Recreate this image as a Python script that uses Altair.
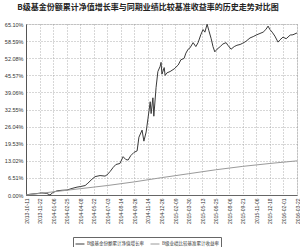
import altair as alt
import pandas as pd

title_text = "B级基金份额累计净值增长率与同期业绩比较基准收益率的历史走势对比图"
series_names = ["B级基金份额累计净值增长率", "B级业绩比较基准累计收益率"]

# trading-day index and cumulative return (%) of the fund
fund_day = [0, 9, 22, 35, 46, 53, 60, 69, 80, 91, 102, 113, 120, 131, 137, 146, 153, 164,
            175, 179, 186, 193, 199, 208, 215, 221, 226, 232, 239, 246, 250, 257, 261, 266,
            270, 275, 277, 281, 283, 288, 292, 297, 299, 301, 306, 308, 312, 319, 328, 337,
            343, 350, 354, 359, 363, 370, 376, 381, 387, 392, 396, 401, 405, 410, 414, 418,
            423, 430, 436, 443, 447, 454, 461, 467, 474, 480, 487, 496, 503, 511, 518, 525,
            531, 536, 540, 545, 551, 558, 562, 569, 576, 585, 591, 600]
fund_val = [0.0, 0.3, 0.5, 0.8, 0.6, 0.0, 1.0, 1.6, 1.8, 1.9, 2.5, 3.0, 3.2, 3.6, 4.5, 6.0,
            7.0, 7.4, 7.2, 7.6, 8.9, 10.5, 11.6, 12.0, 14.6, 13.5, 13.3, 15.0, 16.2, 16.8,
            22.0, 24.7, 20.5, 24.0, 29.0, 35.5, 31.0, 37.0, 30.0, 41.0, 47.0, 49.0, 50.5,
            46.0, 48.5, 45.5, 46.5, 47.0, 48.0, 49.5, 51.5, 52.0, 54.0, 55.5, 56.0, 58.0,
            56.5, 58.0, 61.0, 63.0, 62.0, 65.0, 62.5, 59.5, 56.5, 54.5, 55.5, 56.5, 57.5,
            58.0, 57.0, 55.5, 56.5, 57.0, 57.3, 57.8, 58.5, 59.8, 60.3, 61.0, 61.5, 62.0,
            63.0, 64.3, 63.0, 62.0, 60.5, 58.2, 59.0, 60.1, 59.5, 60.9, 61.0, 61.7]

# benchmark cumulative return (%)
bench_day = [0, 60, 120, 180, 240, 300, 360, 420, 480, 540, 600]
bench_val = [0.0, 1.2, 2.4, 3.6, 5.0, 6.6, 8.1, 9.6, 10.9, 12.0, 13.0]

x_labels = ["2013-10-11", "2013-11-22", "2014-01-06", "2014-02-25", "2014-04-08",
            "2014-05-22", "2014-07-03", "2014-08-14", "2014-09-26", "2014-11-14",
            "2014-12-26", "2015-02-09", "2015-03-30", "2015-05-13", "2015-06-25",
            "2015-08-06", "2015-09-21", "2015-11-06", "2015-12-18", "2016-02-01",
            "2016-03-22"]
x_tick_days = [i * 30 for i in range(len(x_labels))]
y_ticks = [0.0, 6.51, 13.02, 19.53, 26.04, 32.55, 39.06, 45.57, 52.08, 58.59, 65.10]

df = pd.concat([
    pd.DataFrame({"day": fund_day, "val": fund_val, "series": series_names[0]}),
    pd.DataFrame({"day": bench_day, "val": bench_val, "series": series_names[1]}),
])

label_arr = "[" + ",".join("'" + s + "'" for s in x_labels) + "]"

grid = dict(grid=True, gridColor="#9a9a9a", gridDash=[1, 2], gridWidth=0.8)

lines = alt.Chart(df).mark_line(strokeWidth=1).encode(
    x=alt.X("day:Q", scale=alt.Scale(domain=[0, 600], nice=False),
            axis=alt.Axis(values=x_tick_days, labelExpr=label_arr + "[round(datum.value/30)]",
                          labelAngle=270, labelFontSize=5, labelColor="#333",
                          labelFont="Liberation Sans", labelPadding=3,
                          labelAlign="right", labelBaseline="middle",
                          title=None, domainColor="#666", tickSize=0, **grid)),
    y=alt.Y("val:Q", scale=alt.Scale(domain=[0, 65.10], nice=False, zero=False),
            axis=alt.Axis(values=y_ticks, labelExpr="format(datum.value, '.2f') + '%'",
                          labelFontSize=5.5, labelColor="#333", labelFont="Liberation Sans",
                          labelPadding=3, title=None, domainColor="#555", tickSize=0, **grid)),
    color=alt.Color("series:N", sort=series_names,
                    scale=alt.Scale(domain=series_names, range=["#3a3a3a", "#9a9a9a"]),
                    legend=alt.Legend(orient="none", legendX=47, legendY=213, direction="horizontal",
                                      title=None, symbolType="stroke", symbolSize=80,
                                      symbolStrokeWidth=1, labelFontSize=4.5, labelFont="Noto Sans CJK SC",
                                      labelColor="#333", strokeColor="#666", padding=2,
                                      columnPadding=4, labelOffset=2, labelLimit=200)),
    detail="series:N",
)

title = alt.Chart(pd.DataFrame({"t": [title_text]})).mark_text(
    fontSize=8, fontWeight="bold", font="Noto Sans CJK SC", color="#222", align="center",
    baseline="middle"
).encode(text="t:N", x=alt.value(122), y=alt.value(-16))

chart = alt.layer(lines, title).properties(
    width=271, height=171,
    autosize=alt.AutoSizeParams(type="none"),
    padding={"left": 26, "top": 24, "right": 3, "bottom": 52},
).configure_view(stroke="#b0b0b0", strokeWidth=1.5).configure(background="white")

chart.save("out.html", embed_options={"renderer": "svg", "actions": False})
